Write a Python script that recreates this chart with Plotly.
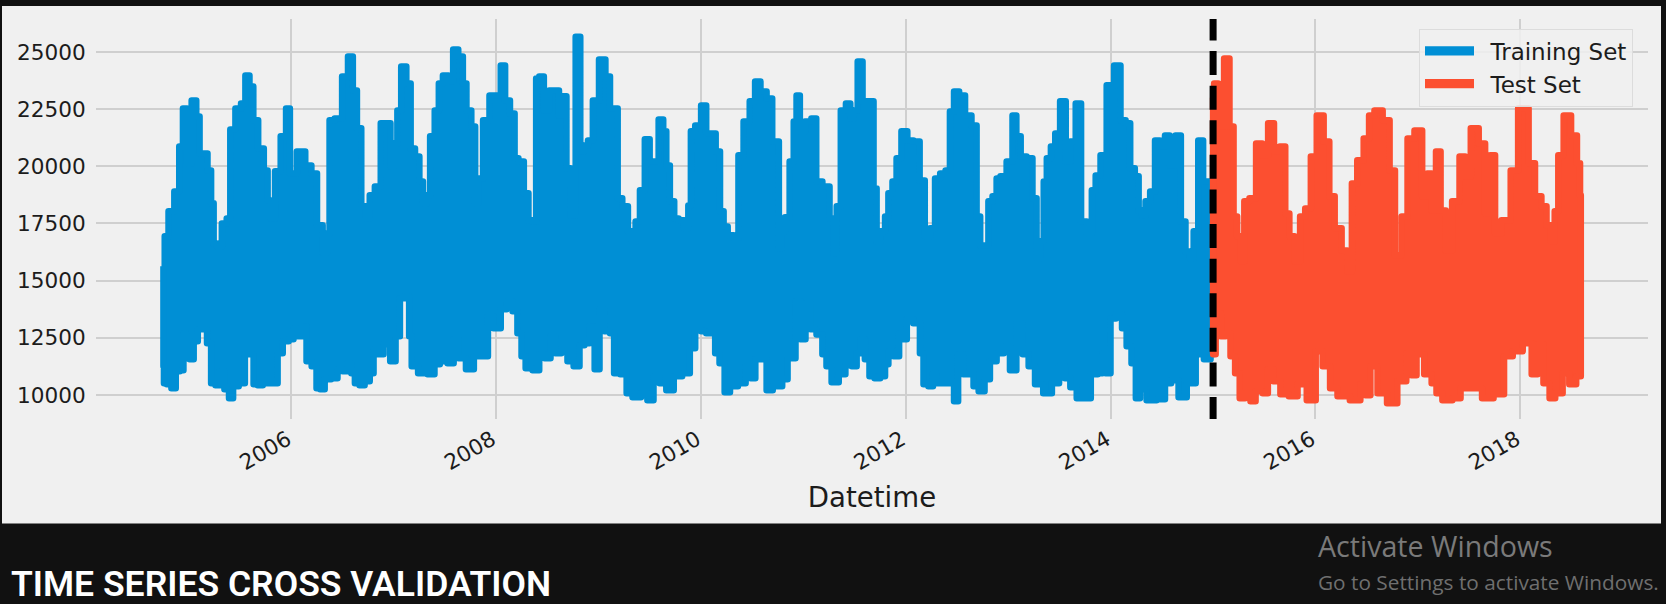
import numpy as np
import pandas as pd
import plotly.graph_objects as go

# ---------- values: upper and lower reach of the load line ----------
train_high_years = [
 2004.75,2004.775,2004.824,2004.888,2004.92,2004.96,2005.00,2005.05,2005.09,2005.115,
 2005.155,2005.205,2005.225,2005.255,2005.29,2005.35,2005.385,2005.42,2005.485,2005.53,
 2005.57,2005.61,2005.645,2005.705,2005.755,2005.78,2005.82,2005.86,2005.93,2005.965,
 2006.005,2006.10,2006.17,2006.22,2006.28,2006.33,2006.365,2006.38,2006.465,2006.525,
 2006.58,2006.62,2006.66,2006.705,2006.75,2006.78,2006.85,2006.895,2006.955,2006.98,
 2007.02,2007.05,2007.095,2007.15,2007.18,2007.235,2007.265,2007.305,2007.34,2007.37,
 2007.43,2007.45,2007.51,2007.56,2007.60,2007.66,2007.69,2007.73,2007.785,2007.805,
 2007.845,2007.90,2007.97,2008.02,2008.07,2008.105,2008.165,2008.195,2008.24,2008.30,
 2008.33,2008.38,2008.40,2008.44,2008.49,2008.545,2008.60,2008.625,2008.67,2008.70,
 2008.75,2008.80,2008.84,2008.87,2008.92,2008.965,2009.04,2009.09,2009.13,2009.17,
 2009.20,2009.26,2009.31,2009.34,2009.38,2009.425,2009.475,2009.52,2009.56,2009.61,
 2009.65,2009.67,2009.72,2009.755,2009.805,2009.865,2009.885,2009.915,2009.97,2010.03,
 2010.07,2010.12,2010.165,2010.205,2010.235,2010.285,2010.35,2010.38,2010.45,2010.50,
 2010.555,2010.605,2010.675,2010.715,2010.75,2010.77,2010.80,2010.84,2010.89,2010.92,
 2010.945,2010.985,2011.045,2011.11,2011.14,2011.23,2011.28,2011.31,2011.34,2011.39,
 2011.44,2011.475,2011.505,2011.555,2011.60,2011.67,2011.70,2011.73,2011.78,2011.815,
 2011.845,2011.895,2011.925,2011.99,2012.04,2012.11,2012.16,2012.21,2012.265,2012.305,
 2012.365,2012.41,2012.45,2012.49,2012.55,2012.605,2012.675,2012.705,2012.745,2012.79,
 2012.82,2012.87,2012.90,2012.945,2013.02,2013.06,2013.095,2013.145,2013.21,2013.26,
 2013.29,2013.33,2013.36,2013.39,2013.44,2013.475,2013.535,2013.585,2013.625,2013.69,
 2013.73,2013.80,2013.83,2013.875,2013.925,2013.995,2014.07,2014.12,2014.17,2014.21,
 2014.26,2014.285,2014.325,2014.355,2014.415,2014.45,2014.51,2014.55,2014.60,2014.665,
 2014.705,2014.755,2014.795,2014.825,2014.885,2014.92,2014.97,2015.00,
]
train_high_mw = [
 15630,16940,18030,18900,20870,22530,20130,22880,22180,20560,
 20560,19820,18380,16630,16500,17500,17720,21610,22530,22750,
 23970,23490,22010,20780,19820,18510,17720,19780,21310,22530,
 19690,20650,20040,19690,17420,16240,17070,22010,22090,23930,
 24800,23320,21660,18250,17720,18730,19120,21880,21880,20000,
 21000,22440,24370,23620,20780,20430,19340,18380,18730,21310,
 22440,23620,23970,23710,25110,24800,23620,22440,21740,18380,
 19470,22010,23100,23100,24410,22880,22310,20350,20210,18820,
 17640,17590,23840,23930,22440,23320,23320,22220,23060,19910,
 17850,25670,20650,20910,21130,22880,24670,23930,22530,22530,
 18600,18250,17160,16720,17590,18950,21180,20210,20210,22050,
 21530,20040,18470,17720,17640,17290,18290,21530,21790,22660,
 21440,21440,20650,18030,17370,16980,16850,20480,21960,22840,
 23710,23270,22970,21090,21090,16410,17160,17770,20210,21960,
 23100,21530,21960,22090,19340,19120,17720,16190,18250,22440,
 22750,22090,22440,24580,22840,22840,19030,16720,17160,17810,
 18820,19340,20350,21530,21130,21090,19380,16940,17290,19470,
 19690,19820,22400,23270,23100,22220,21790,17810,16540,16540,
 18470,18690,19470,19560,20210,22220,21310,20430,20350,18600,
 15980,16720,19340,20350,20870,21440,22840,20210,21090,22750,
 17590,17070,18950,19600,20480,23540,24410,22010,21880,19910,
 19560,18070,17850,18470,18900,21130,20870,21350,20040,21350,
 17590,16280,15980,17160,21130,19340,19340,19340,
]
train_low_years = [
 2004.75,2004.76,2004.805,2004.85,2004.89,2004.93,2004.96,2004.98,2005.03,2005.06,
 2005.11,2005.155,2005.195,2005.235,2005.28,2005.32,2005.37,2005.41,2005.45,2005.52,
 2005.57,2005.615,2005.645,2005.695,2005.745,2005.84,2005.89,2005.94,2006.005,2006.035,
 2006.085,2006.13,2006.165,2006.23,2006.26,2006.30,2006.35,2006.425,2006.475,2006.525,
 2006.57,2006.60,2006.64,2006.69,2006.74,2006.79,2006.815,2006.865,2006.935,2006.995,
 2007.04,2007.08,2007.14,2007.16,2007.19,2007.285,2007.375,2007.42,2007.48,2007.57,
 2007.60,2007.665,2007.745,2007.82,2007.91,2007.93,2008.02,2008.07,2008.135,2008.185,
 2008.23,2008.265,2008.31,2008.40,2008.44,2008.505,2008.555,2008.60,2008.67,2008.72,
 2008.79,2008.835,2008.885,2008.935,2008.985,2009.03,2009.08,2009.14,2009.16,2009.26,
 2009.285,2009.375,2009.45,2009.50,2009.57,2009.62,2009.70,2009.765,2009.865,2009.915,
 2009.97,2010.03,2010.07,2010.12,2010.155,2010.205,2010.255,2010.31,2010.41,2010.46,
 2010.51,2010.55,2010.625,2010.655,2010.745,2010.84,2010.85,2010.90,2010.945,2010.995,
 2011.045,2011.095,2011.16,2011.21,2011.24,2011.31,2011.38,2011.44,2011.505,2011.535,
 2011.58,2011.62,2011.67,2011.72,2011.78,2011.815,2011.845,2011.915,2011.955,2011.99,
 2012.03,2012.115,2012.16,2012.185,2012.255,2012.275,2012.31,2012.40,2012.45,2012.49,
 2012.53,2012.59,2012.645,2012.675,2012.745,2012.79,2012.85,2012.92,2012.99,2013.04,
 2013.115,2013.165,2013.23,2013.29,2013.39,2013.46,2013.53,2013.575,2013.635,2013.70,
 2013.78,2013.83,2013.915,2013.925,2013.975,2014.02,2014.08,2014.14,2014.17,2014.235,
 2014.255,2014.315,2014.385,2014.51,2014.55,2014.63,2014.695,2014.79,2014.87,2014.95,
 2015.00,
]
train_low_mw = [
 11260,10510,10470,10300,11040,11080,12700,11610,11560,12350,
 12870,12870,12260,10510,10430,11040,10250,9860,10380,10510,
 11780,11780,10470,10430,10510,10510,11820,12350,12440,12920,
 12570,13000,11480,11260,10300,10250,10690,10730,11130,11040,
 11390,10950,10510,10430,10600,10950,12000,11780,12220,11480,
 12570,14230,14320,12570,11260,10950,10910,11340,11480,11390,
 12440,11610,11130,11690,11690,13440,12920,13750,14100,13660,
 12700,11690,11170,11080,11780,11610,12570,11820,11910,11480,
 11260,12170,12260,13000,11130,13750,12790,12700,10950,10910,
 10080,9900,10080,9770,10820,10510,10210,10820,10950,12040,
 12870,12790,12700,12700,11820,11390,10120,10380,10510,11260,
 10730,11560,11560,10210,10380,10690,11690,11610,14100,12440,
 14010,12870,12650,11780,11260,10560,10910,11300,11260,11820,
 12440,11560,10820,10730,10820,11340,11910,11690,12700,12440,
 13310,13140,11820,10470,10380,10950,10510,10510,10510,9730,
 11780,10910,10950,10380,10160,10690,11480,11820,12130,11080,
 13140,11780,11260,10470,10080,10510,11260,10730,10340,9860,
 9860,10910,10950,11820,10950,13350,13530,12920,12130,11390,
 9860,10250,9770,9810,10510,10640,9900,10510,11780,11560,
 11780,
]
test_high_years = [
 2015.00,2015.02,2015.08,2015.135,2015.185,2015.215,2015.255,2015.29,2015.32,2015.39,
 2015.45,2015.51,2015.565,2015.625,2015.68,2015.73,2015.76,2015.83,2015.87,2015.93,
 2015.98,2016.045,2016.115,2016.155,2016.22,2016.29,2016.33,2016.38,2016.435,2016.505,
 2016.54,2016.61,2016.70,2016.745,2016.805,2016.875,2016.92,2017.01,2017.07,2017.11,
 2017.155,2017.195,2017.245,2017.295,2017.37,2017.44,2017.48,2017.55,2017.635,2017.675,
 2017.735,2017.77,2017.86,2017.95,2018.005,2018.055,2018.105,2018.18,2018.23,2018.28,
 2018.315,2018.355,2018.385,2018.46,2018.53,2018.575,2018.59,
]
test_high_mw = [
 23000,23620,21740,24720,21740,17810,16940,15850,18470,18600,
 21000,20480,21880,20650,20870,17940,16940,15850,17810,18160,
 20430,22220,21090,18690,17290,16320,15410,19250,20260,21220,
 22220,22440,22010,19820,16110,17810,21220,21570,18690,19690,
 18070,20650,18070,16320,18470,20430,19560,21660,21000,17940,
 20480,17070,17640,19820,22530,22530,20130,18690,18250,17420,
 16720,18030,20480,22220,21350,20130,18730,
]
test_low_years = [
 2015.00,2015.05,2015.10,2015.145,2015.195,2015.235,2015.285,2015.34,2015.39,2015.44,
 2015.53,2015.54,2015.635,2015.68,2015.80,2015.85,2015.98,2016.025,2016.115,2016.17,
 2016.26,2016.41,2016.465,2016.51,2016.56,2016.65,2016.745,2016.85,2016.92,2016.95,
 2017.02,2017.10,2017.165,2017.195,2017.28,2017.39,2017.44,2017.575,2017.675,2017.80,
 2017.88,2017.97,2018.075,2018.145,2018.19,2018.26,2018.31,2018.37,2018.455,2018.50,
 2018.59,
]
test_low_mw = [
 11780,13570,12570,12700,11690,10950,9860,10080,9730,10160,
 10080,11130,10600,10030,9950,10470,9770,11910,11260,10300,
 9950,9770,10470,9990,11260,10080,9640,10600,11820,10860,
 11780,10910,10510,10080,9770,9860,10300,10300,9860,10030,
 11690,11910,12260,10910,12220,10510,9860,10080,10950,10470,
 10820,
]
split_date = "2015-01-01"
y_ticks = [10000, 12500, 15000, 17500, 20000, 22500, 25000]
series_names = ["Training Set", "Test Set"]

assert len(train_high_years) == len(train_high_mw)
assert len(train_low_years) == len(train_low_mw)
assert len(test_high_years) == len(test_high_mw)
assert len(test_low_years) == len(test_low_mw)

# ---------- helpers ----------
W, H = 1666, 604
PX_L, PX_R, PX_T, PX_B = 96, 1648, 19, 419.3

def px(x):
    return (x - PX_L) / (PX_R - PX_L)
def py(y):
    return (PX_B - y) / (PX_B - PX_T)

def to_date(year):
    base = int(np.floor(year))
    start = pd.Timestamp(year=base, month=1, day=1)
    end = pd.Timestamp(year=base + 1, month=1, day=1)
    stamp = start + (end - start) * float(year - base)
    return stamp.strftime("%Y-%m-%d %H:%M")

def load_path(hy, hv, ly, lv):
    """High side forward, low side back, closed: the dense oscillation seen as one band."""
    xs = list(hy) + list(ly)[::-1] + [hy[0]]
    ys = list(hv) + list(lv)[::-1] + [hv[0]]
    return [to_date(v) for v in xs], ys

BLUE, RED = "#008fd5", "#fc4f30"
LW = 6.5
fig = go.Figure()
for name, color, args in [
    (series_names[0], BLUE, (train_high_years, train_high_mw, train_low_years, train_low_mw)),
    (series_names[1], RED, (test_high_years, test_high_mw, test_low_years, test_low_mw)),
]:
    x, y = load_path(*args)
    fig.add_trace(go.Scatter(x=x, y=y, mode="lines", name="\u2002" + name,
                             line=dict(color=color, width=LW, shape="hvh"),
                             fill="toself", fillcolor=color,
                             hoverinfo="skip"))

TXT = "#1c1c1c"
fig.update_layout(
    width=W, height=H,
    paper_bgcolor="#111111", plot_bgcolor="rgba(0,0,0,0)",
    margin=dict(l=PX_L, r=W - PX_R, t=PX_T, b=H - PX_B, pad=0),
    font=dict(family="DejaVu Sans", size=21.6, color=TXT),
    showlegend=True,
    legend=dict(x=px(1419), y=py(29), xanchor="left", yanchor="top",
                bgcolor="rgba(240,240,240,0.85)", bordercolor="#dcdcdc", borderwidth=1,
                itemwidth=49, font=dict(size=23, color=TXT), tracegroupgap=0),
    xaxis=dict(type="date", range=["2004-02-04", "2019-04-01"],
               tick0="2006-01-01", dtick="M24", tickformat="%Y", tickangle=-30,
               showgrid=True, gridcolor="#cfcfcf", gridwidth=1.6, zeroline=False, showline=False,
               ticks="", ticklabelstandoff=3, ticklabelshift=-4,
               title=dict(text="Datetime", font=dict(size=27.6, color=TXT), standoff=13)),
    yaxis=dict(range=[8950, 26442], tickmode="array", tickvals=y_ticks,
               ticktext=[str(v) for v in y_ticks],
               showgrid=True, gridcolor="#cfcfcf", gridwidth=1.6, zeroline=False, showline=False,
               ticks="outside", ticklen=5, tickcolor="rgba(0,0,0,0)"),
)

# light panel behind the axes
fig.add_shape(type="rect", xref="paper", yref="paper", layer="below",
              x0=px(2), x1=px(1661), y0=py(524), y1=py(6),
              fillcolor="#f0f0f0", line=dict(width=0))
# split marker
fig.add_shape(type="line", xref="x", yref="y", layer="above",
              x0=split_date, x1=split_date, y0=8860, y1=26442,
              line=dict(color="black", width=7, dash="24px,10.6px"))

def note(text, x, y, size, color, family, weight=400):
    fig.add_annotation(text=text, xref="paper", yref="paper", x=px(x), y=py(y),
                       xanchor="left", yanchor="middle", showarrow=False,
                       font=dict(size=size, color=color, family=family, weight=weight))

note("TIME SERIES CROSS VALIDATION", 9, 584, 35.5, "#ffffff", "Roboto", 600)
note("Activate Windows", 1316, 546, 28.6, "#7a7a7a", "Open Sans")
note("Go to Settings to activate Windows.", 1316, 582, 20.8, "#6f6f6f", "Open Sans")

fig.write_html("out.html", config={"displayModeBar": False},
               post_script="document.body.style.margin='0';document.body.style.background='#111111';document.body.style.overflow='hidden';"
                           "document.querySelectorAll('.scatterlayer .js-line').forEach(function(p){p.style.strokeLinejoin='round';});")
